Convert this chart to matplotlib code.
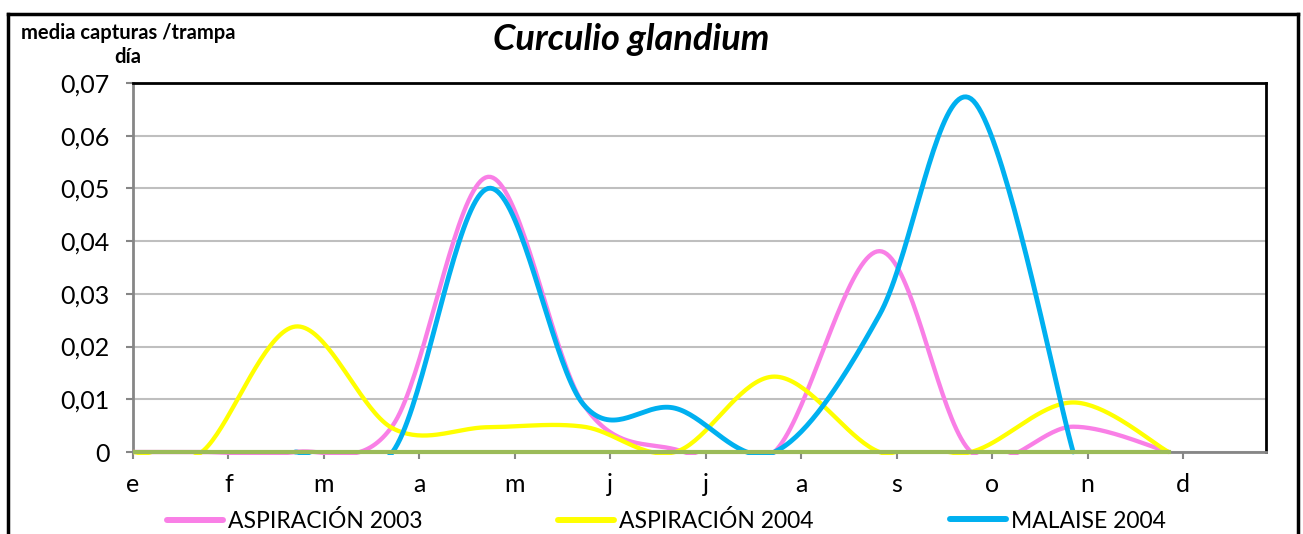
import numpy as np
import matplotlib
matplotlib.use('Agg')
import matplotlib.pyplot as plt
from matplotlib.lines import Line2D
from matplotlib.patches import Rectangle

plt.rcParams['font.family'] = ['Lato', 'DejaVu Sans']

# month labels and sampling positions (in month units, e = 0)
months = ['e', 'f', 'm', 'a', 'm', 'j', 'j', 'a', 's', 'o', 'n', 'd']
sample_x = [0, 0.72, 1.70, 2.72, 3.72, 4.72, 5.68, 6.72, 7.82, 8.78, 9.85, 10.85]

asp_2003 = [0, 0, 0, 0.005, 0.0522, 0.009, 0.0005, 0, 0.0381, 0, 0.0048, 0]
asp_2004 = [0, 0, 0.0238, 0.0045, 0.0047, 0.0048, 0, 0.0143, 0, 0, 0.0094, 0]
malaise_2004 = [np.nan, np.nan, 0, 0, 0.050, 0.009, 0.0083, 0, 0.026, 0.067, 0, np.nan]
malaise_2003 = [0] * 12

yticks = [0, 0.01, 0.02, 0.03, 0.04, 0.05, 0.06, 0.07]
ytick_labels = ['0', '0,01', '0,02', '0,03', '0,04', '0,05', '0,06', '0,07']

# px per unit, so the smoothing is done roughly in screen space like excel
SX, SY = 95.45, 5270.0


def smooth(xs, ys, n=40):
	xs = np.asarray(xs, float)
	ys = np.asarray(ys, float)
	ok = ~np.isnan(ys)
	P = np.column_stack([xs[ok] * SX, ys[ok] * SY])
	out = []
	t = np.linspace(0, 1, n)[:, None]
	for i in range(len(P) - 1):
		p0 = P[i - 1] if i > 0 else P[i]
		p1, p2 = P[i], P[i + 1]
		p3 = P[i + 2] if i + 2 < len(P) else P[i + 1]
		c1 = p1 + (p2 - p0) / 6
		c2 = p2 - (p3 - p1) / 6
		seg = (1 - t)**3 * p1 + 3 * (1 - t)**2 * t * c1 + 3 * (1 - t) * t**2 * c2 + t**3 * p2
		out.append(seg if i == 0 else seg[1:])
	out = np.vstack(out)
	return out[:, 0] / SX, out[:, 1] / SY


W, H = 1303, 534
fig = plt.figure(figsize=(W / 100, H / 100), dpi=100)
ax = fig.add_axes([133/W, 1 - 452/H, (1266-133)/W, (452-83)/H])

clip = Rectangle((0, -0.008), 1, 1.008, transform=ax.transAxes)

series = [
	(asp_2003, '#F97FE6', 3.1, 'ASPIRACIÓN 2003'),
	(asp_2004, '#FFFF00', 3.1, 'ASPIRACIÓN 2004'),
	(malaise_2004, '#00B0F0', 3.5, 'MALAISE 2004'),
]
for vals, col, lw, lab in series:
	sx, sy = smooth(sample_x, vals)
	ln, = ax.plot(sx, sy, color=col, lw=lw, solid_capstyle='round', zorder=3)
	ln.set_clip_path(clip)

gx, gy = smooth(sample_x, malaise_2003)
ln, = ax.plot(gx, gy, color='#9BBB59', lw=3.0, zorder=4)
ln.set_clip_path(clip)

ax.set_xlim(0, (1266 - 133) / 95.45)
ax.set_ylim(0, 0.07)
ax.set_xticks(range(12))
ax.set_xticklabels(months)
ax.set_yticks(yticks)
ax.set_yticklabels(ytick_labels)
ax.tick_params(axis='both', labelsize=18, color='#868686', width=1.5, length=5, direction='out')
ax.tick_params(axis='x', pad=10)
ax.tick_params(axis='y', pad=12)
ax.grid(axis='y', color='#BFBFBF', lw=1.5)
ax.set_axisbelow(True)
for s in ['top', 'right']:
	ax.spines[s].set_color('black')
	ax.spines[s].set_linewidth(2)
for s in ['left', 'bottom']:
	ax.spines[s].set_color('#868686')
	ax.spines[s].set_linewidth(2)

fig.text(631/W, 1 - 40/H, 'Curculio glandium', ha='center', va='center',
	fontsize=26, fontweight='bold', fontstyle='italic')
fig.text(128/W, 1 - 45/H, 'media capturas /trampa\ndía', ha='center', va='center',
	fontsize=14.5, fontweight='bold', linespacing=1.2)

# one legend per entry so each sits where it does in the original
for (vals, col, lw, lab), x0 in zip(series, [167, 558, 950]):
	h = Line2D([], [], color=col, lw=4.3, solid_capstyle='round')
	fig.legend([h], [lab], loc='center left', bbox_to_anchor=(x0/W, 1 - 521/H),
		frameon=False, fontsize=16.5, handlelength=2.45, handletextpad=0.2,
		borderpad=0, borderaxespad=0)

# outer chart border
fig.add_artist(Line2D([8/W, 8/W], [0, 1 - 14/H], color='black', lw=2.5))
fig.add_artist(Line2D([8/W, 1298/W], [1 - 14/H, 1 - 14/H], color='black', lw=2.5))
fig.add_artist(Line2D([1298/W, 1298/W], [0, 1 - 14/H], color='black', lw=2.5))

fig.savefig('out.png', dpi=100)
